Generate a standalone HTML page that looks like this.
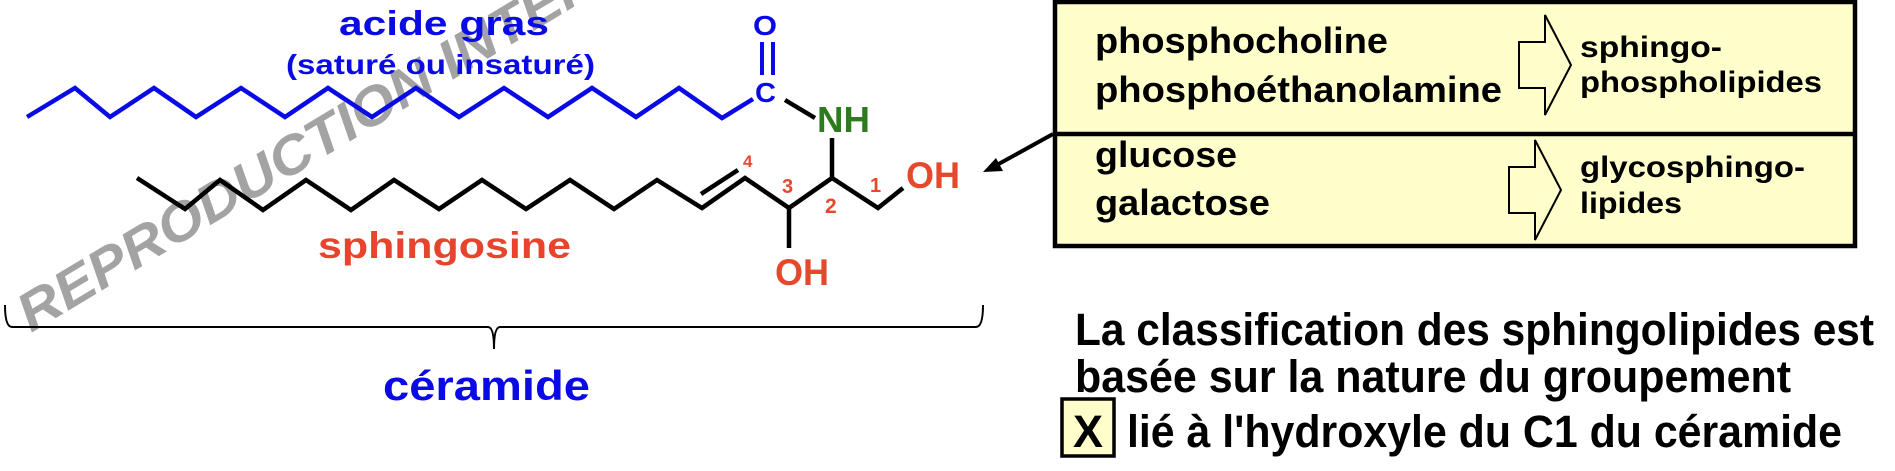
<!DOCTYPE html>
<html><head><meta charset="utf-8"><style>
html,body{margin:0;padding:0;background:#fff;}
svg{display:block;}
text{font-family:"Liberation Sans",Arial,sans-serif;font-weight:bold;}
</style></head><body>
<svg width="1895" height="471" viewBox="0 0 1895 471" xmlns="http://www.w3.org/2000/svg">
<!-- watermark -->
<text x="31" y="333" transform="rotate(-31 31 333)" font-size="54" font-style="italic" fill="#a3a3a3" textLength="800" lengthAdjust="spacingAndGlyphs">REPRODUCTION INTERDITE</text>

<!-- fatty acid chain -->
<polyline fill="none" stroke="#0a0ae6" stroke-width="4.5" stroke-linejoin="miter" points="27,117 75,88 110,117 154,88 196,117 241,88 285,117 328,88 372,117 416,88 459,117 504,88 548,117 592,88 636,117 679,88 722,118 753,99"/>
<text x="755" y="102" font-size="28" fill="#0a0ae6" textLength="21" lengthAdjust="spacingAndGlyphs">C</text>
<line x1="762" y1="42" x2="762" y2="75" stroke="#0a0ae6" stroke-width="4"/>
<line x1="773" y1="42" x2="773" y2="75" stroke="#0a0ae6" stroke-width="4"/>
<text x="753" y="35" font-size="28" fill="#0a0ae6" textLength="24" lengthAdjust="spacingAndGlyphs">O</text>
<line x1="785" y1="100" x2="815" y2="118" stroke="#000" stroke-width="4.5"/>
<text x="817" y="132" font-size="36" fill="#2e7a1e" textLength="53" lengthAdjust="spacingAndGlyphs">NH</text>
<line x1="832" y1="138" x2="832" y2="178" stroke="#000" stroke-width="4.5"/>

<!-- sphingosine chain -->
<polyline fill="none" stroke="#000" stroke-width="4.5" points="137,178 185,209 220,180 263,210 306,180 351,210 394,180 439,209 482,180 526,209 570,180 614,209 657,180 702,208 745,178 789,208 832,178 878,208 903,188"/>
<line x1="701" y1="194" x2="738" y2="170" stroke="#000" stroke-width="4.5"/>
<line x1="789" y1="208" x2="789" y2="248" stroke="#000" stroke-width="4.5"/>
<text x="775" y="285" font-size="37" fill="#e5492d" textLength="54" lengthAdjust="spacingAndGlyphs">OH</text>
<text x="906" y="188" font-size="37" fill="#e5492d" textLength="54" lengthAdjust="spacingAndGlyphs">OH</text>
<text x="743" y="167" font-size="17" fill="#e5492d">4</text>
<text x="782" y="193" font-size="20" fill="#e5492d">3</text>
<text x="825" y="213" font-size="21" fill="#e5492d">2</text>
<text x="870" y="192" font-size="20" fill="#e5492d">1</text>

<!-- labels -->
<text x="339" y="35" font-size="34" fill="#0a0ae6" textLength="210" lengthAdjust="spacingAndGlyphs">acide gras</text>
<text x="286" y="74" font-size="28" fill="#0a0ae6" textLength="309" lengthAdjust="spacingAndGlyphs">(saturé ou insaturé)</text>
<text x="318" y="258" font-size="37" fill="#e8432d" textLength="253" lengthAdjust="spacingAndGlyphs">sphingosine</text>
<text x="383" y="400" font-size="42" fill="#0a0ae6" textLength="207" lengthAdjust="spacingAndGlyphs">céramide</text>

<!-- brace -->
<path d="M5,305 Q5,327 12,327 L488,327 Q494,327 494,349 Q494,327 500,327 L976,327 Q983,327 983,305" fill="none" stroke="#000" stroke-width="2"/>

<!-- arrow to OH -->
<line x1="1053" y1="134" x2="995" y2="166" stroke="#000" stroke-width="4"/>
<polygon points="983,172 996,158 1003,171" fill="#000"/>

<!-- box -->
<rect x="1055" y="2" width="800" height="244" fill="#ffffcc" stroke="#000" stroke-width="4.5"/>
<line x1="1055" y1="134" x2="1855" y2="134" stroke="#000" stroke-width="4.5"/>
<text x="1095" y="53" font-size="36" fill="#000" textLength="293" lengthAdjust="spacingAndGlyphs">phosphocholine</text>
<text x="1095" y="102" font-size="36" fill="#000" textLength="407" lengthAdjust="spacingAndGlyphs">phosphoéthanolamine</text>
<text x="1095" y="167" font-size="36" fill="#000" textLength="142" lengthAdjust="spacingAndGlyphs">glucose</text>
<text x="1095" y="215" font-size="36" fill="#000" textLength="175" lengthAdjust="spacingAndGlyphs">galactose</text>
<polygon points="1519,42 1545,42 1545,15 1571,65 1545,115 1545,88 1519,88" fill="#ffffcc" stroke="#000" stroke-width="2"/>
<polygon points="1509,167 1535,167 1535,140 1561,190 1535,240 1535,213 1509,213" fill="#ffffcc" stroke="#000" stroke-width="2"/>
<text x="1580" y="57" font-size="30" fill="#000" textLength="142" lengthAdjust="spacingAndGlyphs">sphingo-</text>
<text x="1580" y="92" font-size="30" fill="#000" textLength="242" lengthAdjust="spacingAndGlyphs">phospholipides</text>
<text x="1580" y="177" font-size="30" fill="#000" textLength="225" lengthAdjust="spacingAndGlyphs">glycosphingo-</text>
<text x="1580" y="213" font-size="30" fill="#000" textLength="102" lengthAdjust="spacingAndGlyphs">lipides</text>

<!-- bottom text -->
<text x="1075" y="345" font-size="45" fill="#000" textLength="799" lengthAdjust="spacingAndGlyphs">La classification des sphingolipides est</text>
<text x="1075" y="392" font-size="45" fill="#000" textLength="716" lengthAdjust="spacingAndGlyphs">basée sur la nature du groupement</text>
<rect x="1062" y="399" width="52" height="57" fill="#ffffcc" stroke="#000" stroke-width="3.5"/>
<text x="1073" y="447" font-size="45" fill="#000" textLength="30" lengthAdjust="spacingAndGlyphs">X</text>
<text x="1127" y="447" font-size="45" fill="#000" textLength="715" lengthAdjust="spacingAndGlyphs">lié à l'hydroxyle du C1 du céramide</text>
</svg>
</body></html>
